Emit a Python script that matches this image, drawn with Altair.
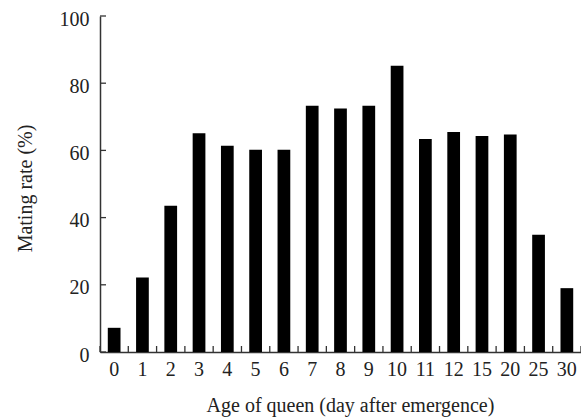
import altair as alt
import pandas as pd

# Mating rate of queens by age (days after emergence)
ages = ["0", "1", "2", "3", "4", "5", "6", "7", "8", "9", "10", "11", "12", "15", "20", "25", "30"]
mating_rate = [7.2, 22.2, 43.5, 65.1, 61.4, 60.2, 60.2, 73.3, 72.5, 73.3, 85.2, 63.4, 65.5, 64.3, 64.7, 34.9, 19.0]
y_ticks = [0, 20, 40, 60, 80, 100]

df = pd.DataFrame({"age": ages, "rate": mating_rate})
tick_df = pd.DataFrame({"tick": y_ticks})

FONT = "Liberation Serif"
AXIS_COLOR = "#333333"
TEXT_COLOR = "#222222"
W, H = 481, 336
TICK_LEN = 6

x_enc = alt.X(
    "age:N",
    sort=ages,
    scale=alt.Scale(paddingInner=0, paddingOuter=0),
    axis=alt.Axis(
        title="Age of queen (day after emergence)",
        labelAngle=0,
        labelPadding=23,
        labelBaseline="alphabetic",
        ticks=False,
        tickSize=0,
        titleX=250,
        titleY=59,
        titleBaseline="alphabetic",
        titleAnchor="start",
        titleAlign="center",
    ),
)

y_enc = alt.Y(
    "rate:Q",
    scale=alt.Scale(domain=[0, 100], nice=False),
    axis=alt.Axis(
        title="Mating rate (%)",
        values=y_ticks,
        ticks=False,
        tickSize=0,
        grid=False,
        labelPadding=11,
        labelBaseline="alphabetic",
        labelOffset=9,
        titleAngle=270,
        titleX=-69,
        titleY=172,
        titleAlign="center",
        titleBaseline="alphabetic",
    ),
)

bars = alt.Chart(df).mark_bar(color="black", width=alt.RelativeBandSize(0.45)).encode(
    x=x_enc, y=y_enc
)

# inward ticks on the category axis, at band boundaries
x_ticks = alt.Chart(df).mark_rule(color=AXIS_COLOR, strokeWidth=1.3).encode(
    x=alt.X("age:N", sort=ages, bandPosition=0),
    y=alt.value(H),
    y2=alt.value(H - TICK_LEN),
)
x_tick_end = alt.Chart(df).transform_filter(alt.datum.age == ages[-1]).mark_rule(
    color=AXIS_COLOR, strokeWidth=1.3
).encode(
    x=alt.X("age:N", sort=ages, bandPosition=1),
    y=alt.value(H),
    y2=alt.value(H - TICK_LEN),
)

# inward ticks on the value axis
y_tick_marks = alt.Chart(tick_df).mark_rule(color=AXIS_COLOR, strokeWidth=1.3).encode(
    y=alt.Y("tick:Q"),
    x=alt.value(0),
    x2=alt.value(TICK_LEN),
)

chart = (
    alt.layer(bars, x_ticks, x_tick_end, y_tick_marks)
    .properties(
        width=W,
        height=H,
        autosize=alt.AutoSizeParams(type="none"),
        padding={"left": 100, "top": 16, "right": 0, "bottom": 66},
        background="white",
    )
    .configure_view(stroke=None)
    .configure_axis(
        domainColor=AXIS_COLOR,
        domainWidth=1.5,
        labelFont=FONT,
        labelFontSize=20,
        labelColor=TEXT_COLOR,
        titleFont=FONT,
        titleFontSize=20,
        titleFontWeight="normal",
        titleColor=TEXT_COLOR,
    )
)

chart.save("out.html", embed_options={"renderer": "svg", "actions": False})
